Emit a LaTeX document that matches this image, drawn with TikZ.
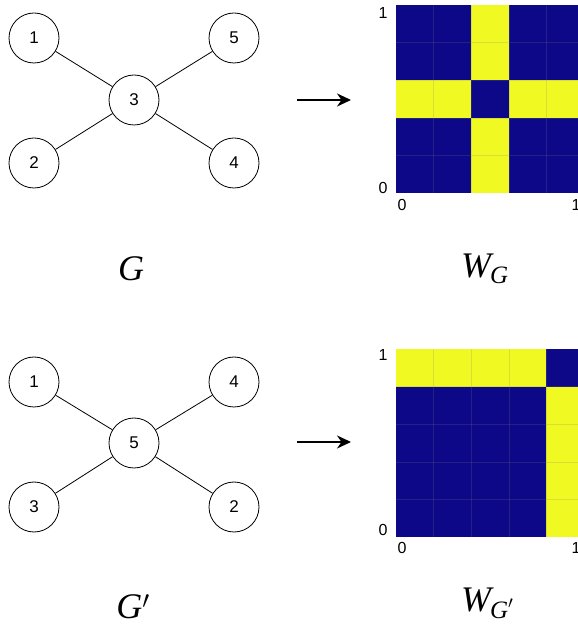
\documentclass[tikz,border=0pt]{standalone}
\usepackage{fontspec}
\setsansfont{Liberation Sans}
\newfontfamily\capfont{Liberation Serif}
\usetikzlibrary{arrows.meta}
\definecolor{wlow}{RGB}{13,8,135}
\definecolor{whigh}{RGB}{240,249,33}
% italic caption letter with a lowered, smaller subscript
\newcommand{\capsub}[2]{#1\kern-1pt\raisebox{-6pt}{\fontsize{25}{25}\selectfont #2}}
\begin{document}
\begin{tikzpicture}[x=1pt,y=1pt,
  vertex/.style={circle,draw,line width=0.8pt,minimum size=50pt,inner sep=0pt,
    font=\sffamily\fontsize{17}{17}\selectfont},
  edge/.style={line width=0.8pt},
  maparrow/.style={line width=2.6pt,-{Stealth[length=14pt,width=13pt]}},
  tick/.style={font=\sffamily\fontsize{16}{16}\selectfont,inner sep=0pt},
  caption/.style={font=\capfont\itshape\fontsize{36}{36}\selectfont,inner sep=0pt},
  gridline/.style={gray,line width=0.4pt,opacity=0.2}]
\useasboundingbox (0,0) rectangle (578,630);

% ---------- graph G ----------
\node[vertex] (a1) at (34,592) {1};
\node[vertex] (a5) at (234,592) {5};
\node[vertex] (a3) at (134,530) {3};
\node[vertex] (a2) at (34,467) {2};
\node[vertex] (a4) at (234,467) {4};
\draw[edge] (a1) -- (a3);
\draw[edge] (a5) -- (a3);
\draw[edge] (a2) -- (a3);
\draw[edge] (a4) -- (a3);

\coordinate (s1) at (297,530);
\coordinate (t1) at (351,530);
\draw[maparrow] (s1) -- (t1);

% ---------- graphon W_G (centre vertex 3) ----------
\def\cs{37.6}
\begin{scope}[shift={(396,437)}]
  \fill[wlow] (0,0) rectangle (5*\cs,5*\cs);
  \foreach \k in {0,1,3,4} {
    \fill[whigh] (2*\cs,\k*\cs) rectangle (3*\cs,\k*\cs+\cs);
    \fill[whigh] (\k*\cs,2*\cs) rectangle (\k*\cs+\cs,3*\cs);
  }
  \foreach \k in {1,2,3,4} {
    \draw[gridline] (\k*\cs,0) -- (\k*\cs,5*\cs);
    \draw[gridline] (0,\k*\cs) -- (5*\cs,\k*\cs);
  }
\end{scope}
\node[tick] (ty1) at (383,617) {1};
\node[tick] (ty0) at (383,442) {0};
\node[tick] (tx0) at (402,425) {0};
\node[tick] (tx1) at (576,425) {1};

\node[caption,anchor=base] (capG) at (131,349) {G};
\node[caption,anchor=base west] (capW) at (461,352) {\capsub{W}{G}};

% ---------- graph G' ----------
\node[vertex] (b1) at (34,248) {1};
\node[vertex] (b4) at (234,248) {4};
\node[vertex] (b5) at (134,187) {5};
\node[vertex] (b3) at (34,123) {3};
\node[vertex] (b2) at (234,123) {2};
\draw[edge] (b1) -- (b5);
\draw[edge] (b4) -- (b5);
\draw[edge] (b3) -- (b5);
\draw[edge] (b2) -- (b5);

\coordinate (s2) at (297,188);
\coordinate (t2) at (351,188);
\draw[maparrow] (s2) -- (t2);

% ---------- graphon W_G' (centre vertex 5) ----------
\begin{scope}[shift={(396,93)}]
  \fill[wlow] (0,0) rectangle (5*\cs,5*\cs);
  \foreach \k in {0,1,2,3} {
    \fill[whigh] (4*\cs,\k*\cs) rectangle (5*\cs,\k*\cs+\cs);
    \fill[whigh] (\k*\cs,4*\cs) rectangle (\k*\cs+\cs,5*\cs);
  }
  \foreach \k in {1,2,3,4} {
    \draw[gridline] (\k*\cs,0) -- (\k*\cs,5*\cs);
    \draw[gridline] (0,\k*\cs) -- (5*\cs,\k*\cs);
  }
\end{scope}
\node[tick] (uy1) at (383,275) {1};
\node[tick] (uy0) at (383,100) {0};
\node[tick] (ux0) at (402,82) {0};
\node[tick] (ux1) at (576,82) {1};

\node[caption,anchor=base] (capGp) at (133,12) {G$'$};
\node[caption,anchor=base west] (capWp) at (461,18) {\capsub{W}{G$'$}};
\end{tikzpicture}
\end{document}
